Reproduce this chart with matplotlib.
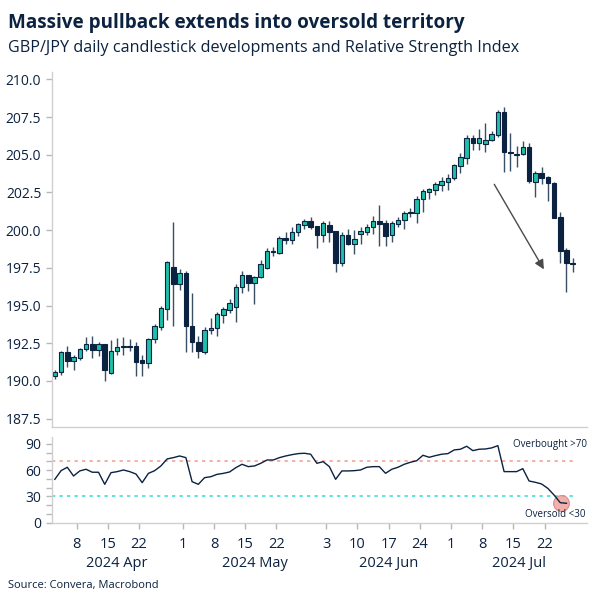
import numpy as np
import pandas as pd
import matplotlib
matplotlib.use("Agg")
import matplotlib.pyplot as plt
from matplotlib import transforms

# GBP/JPY daily candles, 2 Apr - 26 Jul 2024 (weekdays)
dates = pd.bdate_range("2024-04-02", "2024-07-26")

opens = [190.35, 190.6, 191.92, 191.3, 191.5, 192.12, 192.43, 192.05, 192.43, 190.5,
         192.0, 192.3, 192.3, 192.33, 191.38, 191.2, 192.76, 193.6, 194.77, 197.53,
         196.4, 197.17, 193.64, 192.6, 191.94, 193.38, 193.49, 194.37, 194.7, 194.88,
         196.25, 197.0, 196.47, 196.87, 197.47, 198.65, 198.5, 199.46, 199.35, 199.9,
         200.34, 200.63, 200.27, 199.67, 200.34, 199.96, 197.8, 199.67, 199.06, 199.75,
         199.9, 200.2, 200.6, 200.45, 199.67, 200.4, 200.67, 201.2, 201.15, 202.1,
         202.55, 202.66, 202.99, 203.21, 203.43, 204.25, 204.8, 206.09, 205.76, 205.7,
         205.98, 206.3, 207.85, 205.2, 205.05, 205.05, 205.53, 203.21, 203.77, 203.5,
         203.14, 200.9, 198.68, 197.84]
highs = [190.75, 192.0, 192.3, 191.7, 192.2, 192.9, 192.98, 192.6, 192.45, 192.7,
         192.85, 192.9, 192.78, 192.6, 191.7, 192.83, 193.76, 195.0, 197.95, 200.56,
         197.4, 197.3, 195.8, 193.0, 193.6, 194.15, 194.6, 194.92, 195.4, 196.4,
         197.3, 197.05, 196.95, 198.0, 198.8, 198.9, 199.6, 199.9, 200.22, 200.5,
         200.75, 200.85, 200.3, 200.6, 200.6, 199.97, 199.9, 200.1, 200.0, 200.2,
         200.4, 200.95, 201.66, 200.7, 200.6, 200.9, 201.3, 201.45, 202.25, 202.7,
         202.8, 203.2, 203.5, 203.75, 204.4, 205.09, 206.3, 206.3, 206.72, 207.1,
         206.6, 208.0, 208.18, 206.42, 205.6, 205.9, 205.75, 203.9, 204.2, 203.6,
         203.2, 201.18, 198.79, 198.17]
lows = [190.1, 190.4, 190.95, 190.7, 191.4, 192.0, 191.5, 191.65, 190.0, 190.45,
        191.7, 191.7, 192.0, 190.33, 190.35, 190.85, 192.5, 193.4, 194.05, 193.64,
        196.0, 191.9, 191.9, 191.5, 191.8, 193.1, 193.0, 193.86, 194.5, 193.93,
        195.8, 195.98, 195.1, 196.85, 197.4, 198.28, 198.4, 199.08, 199.07, 199.6,
        200.1, 200.1, 198.8, 199.23, 199.2, 197.24, 197.6, 199.0, 198.4, 199.1,
        199.7, 199.74, 198.97, 198.97, 199.2, 200.2, 200.05, 200.85, 200.5, 201.22,
        202.1, 202.3, 202.57, 202.67, 203.3, 203.77, 204.4, 205.31, 205.33, 205.2,
        205.9, 206.2, 203.87, 203.94, 204.2, 204.98, 203.1, 202.17, 203.06, 201.95,
        200.82, 197.8, 195.92, 197.24]
closes = [190.62, 191.94, 191.3, 191.6, 192.12, 192.43, 192.05, 192.43, 190.72, 192.0,
          192.27, 192.25, 192.28, 191.27, 191.17, 192.78, 193.64, 194.82, 197.86, 196.4,
          197.17, 193.64, 192.6, 192.0, 193.38, 193.5, 194.42, 194.75, 195.15, 196.2,
          197.0, 196.47, 196.9, 197.73, 198.6, 198.53, 199.46, 199.35, 199.9, 200.4,
          200.63, 200.23, 199.67, 200.5, 199.9, 197.8, 199.67, 199.06, 199.4, 199.95,
          200.23, 200.6, 200.4, 199.63, 200.45, 200.67, 201.15, 201.12, 202.1, 202.6,
          202.7, 203.06, 203.28, 203.43, 204.32, 204.87, 206.09, 205.8, 206.09, 206.0,
          206.37, 207.85, 205.2, 205.13, 204.98, 205.53, 203.28, 203.77, 203.43, 203.14,
          200.82, 198.63, 197.84, 197.75]

rsi = [49.6, 59.5, 63.4, 53.4, 59.2, 61.1, 57.7, 57.7, 43.9, 57.2,
       58.4, 60.3, 58.4, 55.7, 45.8, 56.4, 59.5, 64.9, 72.9, 74.4,
       76.3, 74.4, 46.9, 43.9, 51.5, 52.6, 55.3, 56.4, 58.0, 62.9,
       66.8, 64.1, 64.9, 67.9, 71.7, 71.7, 74.4, 76.3, 77.8, 79.0,
       79.4, 78.3, 67.9, 69.8, 64.1, 49.6, 59.2, 59.2, 59.5, 60.3,
       63.4, 64.1, 64.1, 56.5, 61.1, 63.4, 66.8, 69.1, 70.9, 77.1,
       74.8, 76.7, 78.3, 79.0, 83.2, 84.0, 87.4, 82.4, 84.0, 84.3,
       85.5, 88.1, 58.4, 58.4, 58.4, 61.8, 47.7, 46.2, 44.3, 39.3,
       31.7, 22.9, 22.2]

tick_dates = ["2024-04-08", "2024-04-15", "2024-04-22", "2024-05-01", "2024-05-08",
              "2024-05-15", "2024-05-22", "2024-06-03", "2024-06-10", "2024-06-17",
              "2024-06-24", "2024-07-01", "2024-07-08", "2024-07-15", "2024-07-22"]
month_labels = ["2024 Apr", "2024 May", "2024 Jun", "2024 Jul"]

NAVY = "#0b2240"
TEAL = "#1fbfa9"
GRID = "#d0d0d0"

plt.rcParams['font.family'] = ['Open Sans', 'DejaVu Sans']

fig = plt.figure(figsize=(6.04, 6.04), dpi=100)
ax = fig.add_axes([0.0856, 0.293, 0.8864, 0.588])
ax2 = fig.add_axes([0.0856, 0.1346, 0.8864, 0.1419])

x = np.arange(len(dates))
o = np.array(opens); h = np.array(highs); l = np.array(lows); c = np.array(closes)
up = c >= o
body_lo = np.minimum(o, c)
body_h = np.maximum(np.abs(c - o), 0.06)

ax.vlines(x, l, h, color="#3a4f63", lw=1.0, zorder=1)
ax.bar(x[up], body_h[up], bottom=body_lo[up], width=0.72, color=TEAL,
       edgecolor=NAVY, linewidth=0.8, zorder=2)
ax.bar(x[~up], body_h[~up], bottom=body_lo[~up], width=0.72, color=NAVY,
       edgecolor=NAVY, linewidth=0.8, zorder=2)

ax.annotate("", xy=(78.6, 197.24), xytext=(70.2, 203.2),
            arrowprops=dict(arrowstyle="-|>", color="#4a4a4a", lw=1.0,
                            mutation_scale=14))

xlim = (-0.5, 85.3)
ax.set_xlim(*xlim)
ax.set_ylim(186.94, 210.5)
ax.set_yticks(np.arange(187.5, 210.01, 2.5))
ax.set_yticklabels([f"{v:.1f}" for v in np.arange(187.5, 210.01, 2.5)])
ax.set_xticks([])

# RSI panel
xr = np.arange(len(rsi))
frac = (83 - xlim[0]) / (xlim[1] - xlim[0])
ax2.axhline(70, color="#f2a397", lw=1.2, ls=(0, (2, 2.5)), xmax=frac)
ax2.axhline(30, color="#3fe0d3", lw=1.2, ls=(0, (2, 2.5)), xmax=frac)
ax2.plot(xr, rsi, color=NAVY, lw=1.0, zorder=3)
ax2.scatter([xr[-2] + 0.1], [rsi[-2]], s=130, color="#f0a29c", edgecolor="#d9827a",
            alpha=0.85, lw=0.8, zorder=2)
ax2.text(73.4, 89, "Overbought >70", fontsize=7, color=NAVY, va="center")
ax2.text(75.4, 9.5, "Oversold <30", fontsize=7, color=NAVY, va="center")
ax2.set_xlim(*xlim)
ax2.set_ylim(0, 98)
ax2.set_yticks([0, 30, 60, 90])
ax2.set_yticks([10, 20, 40, 50, 70, 80], minor=True)

pos = [dates.get_loc(pd.Timestamp(d)) - 0.5 for d in tick_dates]
ax2.set_xticks(pos)
ax2.set_xticklabels([str(pd.Timestamp(d).day) for d in tick_dates])

months = dates.to_period("M")
trans = transforms.blended_transform_factory(ax2.transData, ax2.transAxes)
for m, lab in zip(months.unique(), month_labels):
    idx = np.where(months == m)[0]
    a = max(idx[0] - 0.5, xlim[0])
    b = min(idx[-1] + 0.5 if m != months[-1] else xlim[1], xlim[1])
    ax2.text((a + b) / 2, -0.48, lab, transform=trans, ha="center", va="center",
             fontsize=10.5, color=NAVY)

for a_ in (ax, ax2):
    for s in ("top", "right"):
        a_.spines[s].set_visible(False)
    for s in ("left", "bottom"):
        a_.spines[s].set_color(GRID)
        a_.spines[s].set_linewidth(1.0)
    a_.tick_params(axis="both", which="both", color="#b8b8b8", labelcolor=NAVY,
                   labelsize=10, length=4, width=1)
ax.tick_params(axis="x", length=0)
ax2.tick_params(axis="x", pad=6, labelsize=10.5)
ax2.tick_params(axis="y", which="minor", length=4)

fig.text(0.013, 0.962, "Massive pullback extends into oversold territory",
         fontsize=13.6, fontweight="bold", color=NAVY, va="center")
fig.text(0.013, 0.921, "GBP/JPY daily candlestick developments and Relative Strength Index",
         fontsize=11.6, color=NAVY, va="center")
fig.text(0.013, 0.031, "Source: Convera, Macrobond", fontsize=8, color=NAVY, va="center")

fig.savefig("out.png", dpi=100)
